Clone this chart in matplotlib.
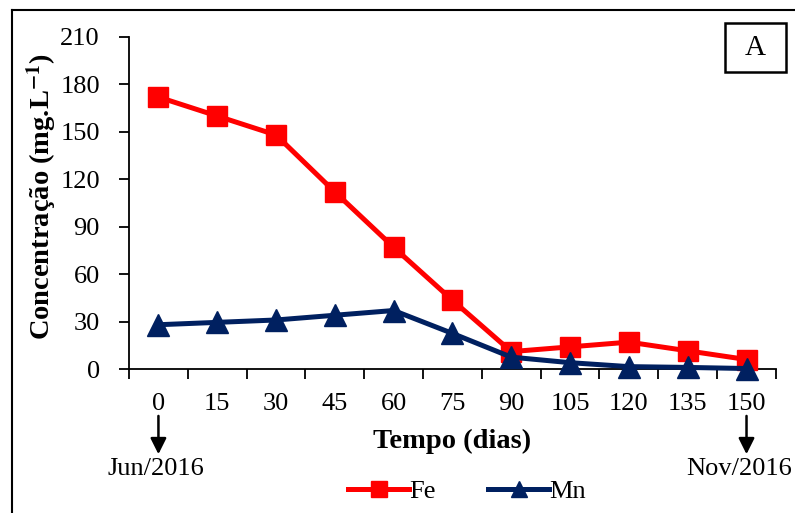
import matplotlib.pyplot as plt
from matplotlib.patches import Rectangle

plt.rcParams['font.family'] = ['Liberation Serif', 'DejaVu Serif']
plt.rcParams['mathtext.fontset'] = 'stix'

# dados (dias e concentrações em mg/L)
dias = ['0', '15', '30', '45', '60', '75', '90', '105', '120', '135', '150']
fe = [172, 160, 148, 112, 77, 43.5, 11, 14, 17, 11.5, 6]
mn = [28, 29.5, 31, 34, 37, 22.5, 7.5, 4, 1.5, 1, 0.3]
y_ticks = [0, 30, 60, 90, 120, 150, 180, 210]

fig = plt.figure(figsize=(7.95, 5.13), dpi=100)
ax = fig.add_axes([0.1623, 0.2807, 0.8137, 0.6472])

x = list(range(len(dias)))
ax.plot(x, fe, color='#FF0000', lw=3.6, marker='s', ms=14.5, label='Fe', clip_on=False, zorder=3)
ax.plot(x, mn, color='#002060', lw=3.6, marker='^', ms=16, label='Mn', clip_on=False, zorder=4)

ax.set_xlim(-0.5, len(dias) - 0.5)
ax.set_ylim(0, 210)
ax.set_yticks(y_ticks)
ax.set_yticklabels([str(v) for v in y_ticks], fontsize=19)

# ticks entre categorias, rótulos no centro
ax.set_xticks([i - 0.5 for i in range(len(dias) + 1)])
ax.set_xticklabels([])
ax.set_xticks(x, minor=True)
ax.set_xticklabels(dias, minor=True, fontsize=19)
ax.tick_params(axis='x', which='major', direction='out', length=7, width=1.3)
ax.tick_params(axis='x', which='minor', length=0, pad=17)
ax.tick_params(axis='y', direction='out', length=7, width=1.3, pad=14)

for s in ['top', 'right']:
    ax.spines[s].set_visible(False)
for s in ['left', 'bottom']:
    ax.spines[s].set_linewidth(1.3)

ax.set_xlabel('Tempo (dias)', fontsize=20.5, fontweight='bold', labelpad=10)
ax.set_ylabel('Concentração (mg.L$^{\\mathbf{-1}}$)', fontsize=20.5, fontweight='bold')
ax.yaxis.set_label_coords(-0.108, 0.52)

# setas de início e fim
for xi, txt, dx in [(0, 'Jun/2016', -0.04), (len(dias) - 1, 'Nov/2016', -0.12)]:
    ax.annotate('', xy=(xi, -0.265), xytext=(xi, -0.133),
                xycoords=('data', 'axes fraction'),
                arrowprops=dict(arrowstyle='-|>', color='black', lw=1.8, mutation_scale=24))
    ax.text(xi + dx, -0.30, txt, transform=ax.get_xaxis_transform(),
            ha='center', va='center', fontsize=19)

# caixa "A"
fig.patches.append(Rectangle((725 / 795, 1 - 72 / 513), 61 / 795, 49 / 513,
                             transform=fig.transFigure, fill=False, lw=1.8, ec='black'))
fig.text(755.5 / 795, 1 - 48 / 513, 'A', ha='center', va='center', fontsize=21)

# borda da figura
fig.add_artist(plt.Line2D([12 / 795, 12 / 795], [0, 1 - 10 / 513], color='black', lw=1.5,
                          transform=fig.transFigure))
fig.add_artist(plt.Line2D([12 / 795, 1], [1 - 10 / 513, 1 - 10 / 513], color='black', lw=1.5,
                          transform=fig.transFigure))

fig.legend(loc='center', bbox_to_anchor=(467 / 795, 1 - 491 / 513), ncol=2, frameon=False,
           fontsize=19, handlelength=2.3, columnspacing=2.0, handletextpad=0.0,
           markerscale=0.75)

fig.savefig('out.png', dpi=100)
